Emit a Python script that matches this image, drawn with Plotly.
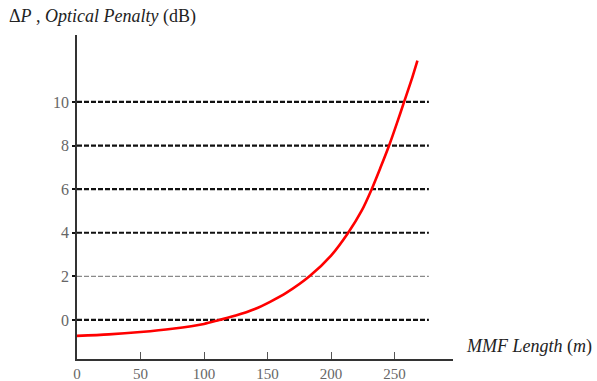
import plotly.graph_objects as go

# MMF length (m) and optical penalty (dB)
length_m = [0, 25, 50, 75, 100, 112, 125, 140, 152, 165, 183, 200, 213.5, 224, 232, 239, 245.7, 252, 257.5, 263, 268]
penalty_db = [-0.73, -0.66, -0.55, -0.4, -0.18, 0.0, 0.2, 0.5, 0.83, 1.25, 2.0, 2.95, 4.0, 5.0, 6.0, 7.0, 8.0, 9.05, 10.0, 10.95, 11.9]

# reference levels drawn as dashed guides
levels = [0, 2, 4, 6, 8, 10]
level_end = 277
x_ticks = [0, 50, 100, 150, 200, 250]

serif = "Liberation Serif"

fig = go.Figure()
fig.add_trace(go.Scatter(
    x=length_m, y=penalty_db, mode="lines",
    line=dict(color="#ff0000", width=2.6, shape="spline", smoothing=0.8),
    showlegend=False, hoverinfo="skip",
))

for lv in levels:
    light = lv == 2
    fig.add_shape(
        type="line", xref="x", yref="y", x0=0, x1=level_end, y0=lv, y1=lv,
        line=dict(color="#8a8a8a" if light else "#111111",
                  width=1.2 if light else 2.2, dash="5px,2px"),
        layer="below",
    )

fig.update_xaxes(
    range=[0, 296], tickvals=x_ticks, ticktext=[str(v) for v in x_ticks],
    showgrid=False, zeroline=False, showline=True, linecolor="#333333", linewidth=1.6,
    ticks="inside", ticklen=7, tickwidth=1.3, tickcolor="#555555",
    tickfont=dict(family=serif, size=15, color="#666666"), automargin=False,
)
fig.update_yaxes(
    range=[-1.79, 13.07], tickvals=levels, ticktext=[str(v) for v in levels],
    showgrid=False, zeroline=False, showline=True, linecolor="#333333", linewidth=1.6,
    ticks="outside", ticklen=3, tickwidth=2, tickcolor="#111111",
    tickfont=dict(family=serif, size=16, color="#666666"), automargin=False,
)

fig.add_annotation(
    xref="paper", yref="paper", x=1.03, y=0.0, xanchor="left", yanchor="bottom",
    text="<i>MMF Length</i> (<i>m</i>)", showarrow=False,
    font=dict(family=serif, size=18, color="#222222"),
)
fig.add_annotation(
    xref="paper", yref="paper", x=-0.185, y=1.02, xanchor="left", yanchor="bottom",
    text="Δ<i>P</i> , <i>Optical Penalty</i> (dB)", showarrow=False,
    font=dict(family=serif, size=18, color="#222222"),
)

fig.update_layout(
    width=597, height=381,
    margin=dict(l=77, r=144, t=35, b=22),
    paper_bgcolor="white", plot_bgcolor="white",
)

fig.write_html("out.html")
